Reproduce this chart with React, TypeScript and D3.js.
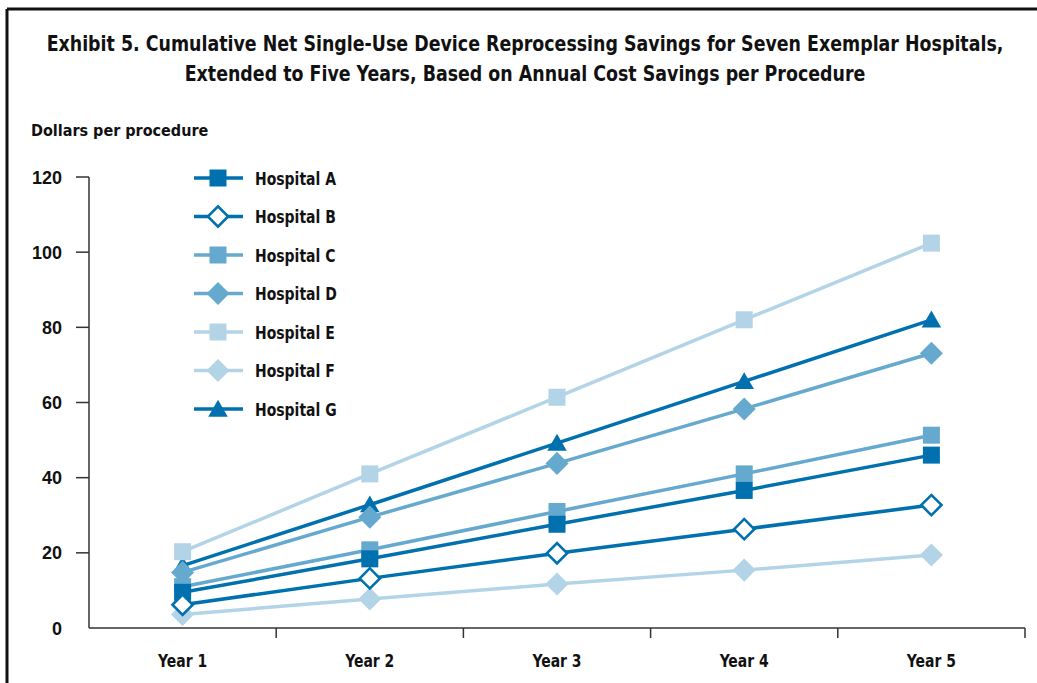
import React from "react";
import * as d3 from "d3";

const years = ["Year 1", "Year 2", "Year 3", "Year 4", "Year 5"];
const yTicks = [0, 20, 40, 60, 80, 100, 120];

const hospitalA = [9.5, 18.4, 27.6, 36.6, 46];
const hospitalB = [6.2, 13.2, 19.9, 26.3, 32.7];
const hospitalC = [11, 20.8, 31, 41, 51.3];
const hospitalD = [14.8, 29.5, 43.8, 58.3, 73.1];
const hospitalE = [20.3, 41, 61.4, 82, 102.4];
const hospitalF = [3.6, 7.7, 11.7, 15.4, 19.4];
const hospitalG = [16.6, 32.8, 49.2, 65.6, 82];

const titleLines = [
  "Exhibit 5. Cumulative Net Single-Use Device Reprocessing Savings for Seven Exemplar Hospitals,",
  "Extended to Five Years, Based on Annual Cost Savings per Procedure",
];

const DARK = "#0070AF";
const MID = "#66A9CF";
const LIGHT = "#B3D4E7";

type Series = { name: string; values: number[]; color: string; shape: "square" | "diamond" | "hollowDiamond" | "triangle" };

const series: Series[] = [
  { name: "Hospital A", values: hospitalA, color: DARK, shape: "square" },
  { name: "Hospital B", values: hospitalB, color: DARK, shape: "hollowDiamond" },
  { name: "Hospital C", values: hospitalC, color: MID, shape: "square" },
  { name: "Hospital D", values: hospitalD, color: MID, shape: "diamond" },
  { name: "Hospital E", values: hospitalE, color: LIGHT, shape: "square" },
  { name: "Hospital F", values: hospitalF, color: LIGHT, shape: "diamond" },
  { name: "Hospital G", values: hospitalG, color: DARK, shape: "triangle" },
];

const drawOrder = ["Hospital G", "Hospital F", "Hospital E", "Hospital D", "Hospital C", "Hospital A", "Hospital B"];

const COND = "'Liberation Sans Narrow', 'DejaVu Sans Condensed', 'Roboto Condensed', sans-serif";
const SANS = "'Liberation Sans', Arial, sans-serif";

function CondText({
  x,
  y,
  size,
  sx,
  anchor,
  children,
}: {
  x: number;
  y: number;
  size: number;
  sx: number;
  anchor?: "start" | "middle" | "end";
  children: React.ReactNode;
}) {
  return (
    <text
      transform={`translate(${x},${y}) scale(${sx},1)`}
      textAnchor={anchor || "start"}
      fontFamily={COND}
      fontWeight="bold"
      fontSize={size}
      fill="#111"
    >
      {children}
    </text>
  );
}

function Marker({ s, x, y }: { s: Series; x: number; y: number }) {
  if (s.shape === "square") {
    const p = d3.symbol(d3.symbolSquare, 289)() as string;
    return <path d={p} transform={`translate(${x},${y})`} fill={s.color} />;
  }
  if (s.shape === "diamond") {
    const p = d3.symbol(d3.symbolSquare, 265)() as string;
    return <path d={p} transform={`translate(${x},${y}) rotate(45)`} fill={s.color} />;
  }
  if (s.shape === "hollowDiamond") {
    const p = d3.symbol(d3.symbolSquare, 205)() as string;
    return <path d={p} transform={`translate(${x},${y}) rotate(45)`} fill="#fff" stroke={s.color} strokeWidth={2.6} />;
  }
  const p = d3.symbol(d3.symbolTriangle, 165)() as string;
  return <path d={p} transform={`translate(${x},${y + 2})`} fill={s.color} />;
}

export default function App() {
  const W = 1037;
  const H = 683;
  const x = d3.scaleBand<string>().domain(years).range([89, 1025]);
  const y = d3.scaleLinear().domain([0, 120]).range([628, 177]);
  const cx = (yr: string) => (x(yr) as number) + x.bandwidth() / 2;
  const line = d3
    .line<number>()
    .x((_, i) => cx(years[i]))
    .y((v) => y(v));

  const ordered = drawOrder.map((n) => series.find((s) => s.name === n)!);

  return (
    <svg width={W} height={H} style={{ position: "absolute", left: 0, top: 0, background: "#fff" }}>
      <rect x={0} y={0} width={W} height={H} fill="#fff" />
      {/* frame */}
      <line x1={7} y1={9} x2={W} y2={9} stroke="#111" strokeWidth={3} />
      <line x1={7} y1={9} x2={7} y2={H} stroke="#111" strokeWidth={3} />

      {/* title */}
      <CondText x={525} y={51} size={22} sx={0.88} anchor="middle">
        {titleLines[0]}
      </CondText>
      <CondText x={525} y={81} size={22} sx={0.88} anchor="middle">
        {titleLines[1]}
      </CondText>

      <CondText x={31} y={136} size={16} sx={1.0}>
        Dollars per procedure
      </CondText>

      {/* y axis */}
      <line x1={89} y1={y(120)} x2={89} y2={y(0)} stroke="#333" strokeWidth={1.5} />
      {yTicks.map((t) => (
        <g key={t}>
          {t > 0 && <line x1={76} y1={y(t)} x2={89} y2={y(t)} stroke="#333" strokeWidth={1.5} />}
          <text x={62} y={y(t) + 6.5} textAnchor="end" fontFamily={SANS} fontWeight="bold" fontSize={18} fill="#111">
            {t}
          </text>
        </g>
      ))}

      {/* x axis */}
      <line x1={89} y1={y(0)} x2={1025} y2={y(0)} stroke="#333" strokeWidth={1.5} />
      {years.map((yr) => (
        <g key={yr}>
          <line
            x1={(x(yr) as number) + x.bandwidth()}
            y1={y(0)}
            x2={(x(yr) as number) + x.bandwidth()}
            y2={y(0) + 10}
            stroke="#333"
            strokeWidth={1.5}
          />
          <CondText x={cx(yr)} y={667} size={18.5} sx={0.84} anchor="middle">
            {yr}
          </CondText>
        </g>
      ))}

      {/* series */}
      {ordered.map((s) => (
        <g key={s.name}>
          <path d={line(s.values) as string} fill="none" stroke={s.color} strokeWidth={3.5} />
          {s.values.map((v, i) => (
            <Marker key={i} s={s} x={cx(years[i])} y={y(v)} />
          ))}
        </g>
      ))}

      {/* legend */}
      {series.map((s, i) => {
        const ly = 178 + i * 38.5;
        return (
          <g key={s.name}>
            <line x1={194} y1={ly} x2={243} y2={ly} stroke={s.color} strokeWidth={3.5} />
            <Marker s={s} x={218} y={ly} />
            <CondText x={255} y={ly + 6.5} size={18.5} sx={0.84}>
              {s.name}
            </CondText>
          </g>
        );
      })}
    </svg>
  );
}
